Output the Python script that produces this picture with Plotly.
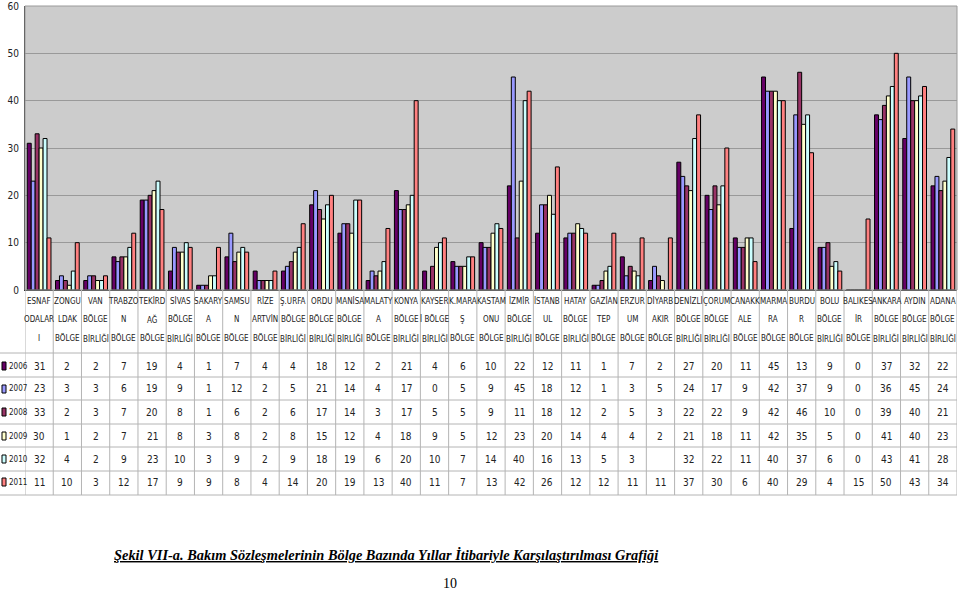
import plotly.graph_objects as go

categories = [
    "ESNAF\nODALAR\nI", "ZONGU\nLDAK\nBÖLGE", "VAN\nBÖLGE\nBİRLİĞİ", "TRABZO\nN\nBÖLGE",
    "TEKİRD\nAĞ\nBÖLGE", "SİVAS\nBÖLGE\nBİRLİĞİ", "SAKARY\nA\nBÖLGE", "SAMSU\nN\nBÖLGE",
    "RİZE\nARTVİN\nBÖLGE", "Ş.URFA\nBÖLGE\nBİRLİĞİ", "ORDU\nBÖLGE\nBİRLİĞİ", "MANİSA\nBÖLGE\nBİRLİĞİ",
    "MALATY\nA\nBÖLGE", "KONYA\nBÖLGE\nBİRLİĞİ", "KAYSER\nİ BÖLGE\nBİRLİĞİ", "K.MARA\nŞ\nBÖLGE",
    "KASTAM\nONU\nBÖLGE", "İZMİR\nBÖLGE\nBİRLİĞİ", "İSTANB\nUL\nBÖLGE", "HATAY\nBÖLGE\nBİRLİĞİ",
    "GAZİAN\nTEP\nBÖLGE", "ERZUR\nUM\nBÖLGE", "DİYARB\nAKIR\nBÖLGE", "DENİZLİ\nBÖLGE\nBİRLİĞİ",
    "ÇORUM\nBÖLGE\nBİRLİĞİ", "CANAKK\nALE\nBÖLGE", "MARMA\nRA\nBÖLGE", "BURDU\nR\nBÖLGE",
    "BOLU\nBÖLGE\nBİRLİĞİ", "BALIKES\nİR\nBÖLGE", "ANKARA\nBÖLGE\nBİRLİĞİ", "AYDIN\nBÖLGE\nBİRLİĞİ",
    "ADANA\nBÖLGE\nBİRLİĞİ",
]
years = ["2006", "2007", "2008", "2009", "2010", "2011"]
v2006 = [31, 2, 2, 7, 19, 4, 1, 7, 4, 4, 18, 12, 2, 21, 4, 6, 10, 22, 12, 11, 1, 7, 2, 27, 20, 11, 45, 13, 9, 0, 37, 32, 22]
v2007 = [23, 3, 3, 6, 19, 9, 1, 12, 2, 5, 21, 14, 4, 17, 0, 5, 9, 45, 18, 12, 1, 3, 5, 24, 17, 9, 42, 37, 9, 0, 36, 45, 24]
v2008 = [33, 2, 3, 7, 20, 8, 1, 6, 2, 6, 17, 14, 3, 17, 5, 5, 9, 11, 18, 12, 2, 5, 3, 22, 22, 9, 42, 46, 10, 0, 39, 40, 21]
v2009 = [30, 1, 2, 7, 21, 8, 3, 8, 2, 8, 15, 12, 4, 18, 9, 5, 12, 23, 20, 14, 4, 4, 2, 21, 18, 11, 42, 35, 5, 0, 41, 40, 23]
v2010 = [32, 4, 2, 9, 23, 10, 3, 9, 2, 9, 18, 19, 6, 20, 10, 7, 14, 40, 16, 13, 5, 3, None, 32, 22, 11, 40, 37, 6, 0, 43, 41, 28]
v2011 = [11, 10, 3, 12, 17, 9, 9, 8, 4, 14, 20, 19, 13, 40, 11, 7, 13, 42, 26, 12, 12, 11, 11, 37, 30, 6, 40, 29, 4, 15, 50, 43, 34]
series = [v2006, v2007, v2008, v2009, v2010, v2011]
colors = ["#660066", "#9999FF", "#993366", "#FFFFCC", "#CCFFFF", "#FF8080"]
caption = "Şekil VII-a. Bakım Sözleşmelerinin Bölge Bazında Yıllar İtibariyle Karşılaştırılması Grafiği"
page_no = "10"

W, H = 959, 591
PL, PR, PT, PB = 25, 957, 6, 290
COND = "DejaVu Sans Condensed, Liberation Sans Narrow, Roboto Condensed, Liberation Sans, sans-serif"
SERIF = "Liberation Serif, Times New Roman, serif"
TXT = "#222222"
GRID = "#B4B4B4"

def py(p):
    return (PB - p) / (PB - PT)

def px(p):
    return (p - PL) / (PR - PL)

n = len(categories)
xs = list(range(n))
fig = go.Figure()
for name, vals, col in zip(years, series, colors):
    fig.add_trace(go.Bar(x=xs, y=vals, name=name,
                         marker=dict(color=col, line=dict(color="black", width=1))))

shapes = []
shapes.append(dict(type="rect", xref="paper", yref="paper", x0=0, x1=1, y0=0, y1=1,
                   line=dict(color="#9a9a9a", width=1), layer="above"))
row_lines = [353, 377, 400, 424, 447, 471, 495]
for r in row_lines:
    shapes.append(dict(type="line", xref="paper", yref="paper", x0=px(0), x1=px(PR),
                       y0=py(r), y1=py(r), line=dict(color=GRID, width=1)))
for i in range(n + 1):
    shapes.append(dict(type="line", xref="x", yref="paper", x0=i - 0.5, x1=i - 0.5,
                       y0=py(PB), y1=py(495), line=dict(color=GRID, width=1)))

annotations = []
header_lines_y = [301, 319, 338]
for i, lab in enumerate(categories):
    for j, part in enumerate(lab.split("\n")):
        annotations.append(dict(x=i, y=py(header_lines_y[j]), xref="x", yref="paper",
                                text=part, showarrow=False, xanchor="center", yanchor="middle",
                                font=dict(family=COND, size=8, color=TXT)))
row_centers = [366, 389, 412, 436, 459, 482]
for k, (name, vals, col) in enumerate(zip(years, series, colors)):
    yc = row_centers[k]
    for i, v in enumerate(vals):
        if v is None:
            continue
        annotations.append(dict(x=i, y=py(yc), xref="x", yref="paper", text=str(v),
                                showarrow=False, xanchor="center", yanchor="middle",
                                font=dict(family=COND, size=10, color=TXT)))
    shapes.append(dict(type="rect", xref="paper", yref="paper", x0=px(2), x1=px(6),
                       y0=py(yc + 4), y1=py(yc - 4), fillcolor=col,
                       line=dict(color="black", width=1)))
    annotations.append(dict(x=px(7), y=py(yc), xref="paper", yref="paper", text=name,
                            showarrow=False, xanchor="left", yanchor="middle",
                            font=dict(family=COND, size=8, color=TXT)))

annotations.append(dict(x=px(386), y=py(555), xref="paper", yref="paper",
                        text="<u><b><i>" + caption + "</i></b></u>", showarrow=False,
                        xanchor="center", yanchor="middle",
                        font=dict(family=SERIF, size=14.4, color="black")))
annotations.append(dict(x=px(450), y=py(583), xref="paper", yref="paper", text=page_no,
                        showarrow=False, xanchor="center", yanchor="middle",
                        font=dict(family=SERIF, size=14, color="black")))

fig.update_layout(
    width=W, height=H,
    margin=dict(l=PL, r=W - PR, t=PT, b=H - PB, pad=0, autoexpand=False),
    paper_bgcolor="white", plot_bgcolor="#CCCCCC",
    barmode="group", bargap=0.16, bargroupgap=0,
    showlegend=False,
    xaxis=dict(range=[-0.5, n - 0.5], showticklabels=False, showgrid=False, zeroline=False,
               showline=True, linecolor="#333333", linewidth=1, ticks="", automargin=False),
    yaxis=dict(range=[0, 60], dtick=10, showgrid=True, gridcolor="#999999", gridwidth=1,
               zeroline=False, showline=True, linecolor="#333333", linewidth=1, ticks="",
               tickfont=dict(family=COND, size=10, color=TXT), ticklabelstandoff=3,
               automargin=False),
    shapes=shapes, annotations=annotations,
)
fig.write_html("out.html", config={"displayModeBar": False},
               post_script="document.body.style.margin='0';document.body.style.overflow='hidden';")
